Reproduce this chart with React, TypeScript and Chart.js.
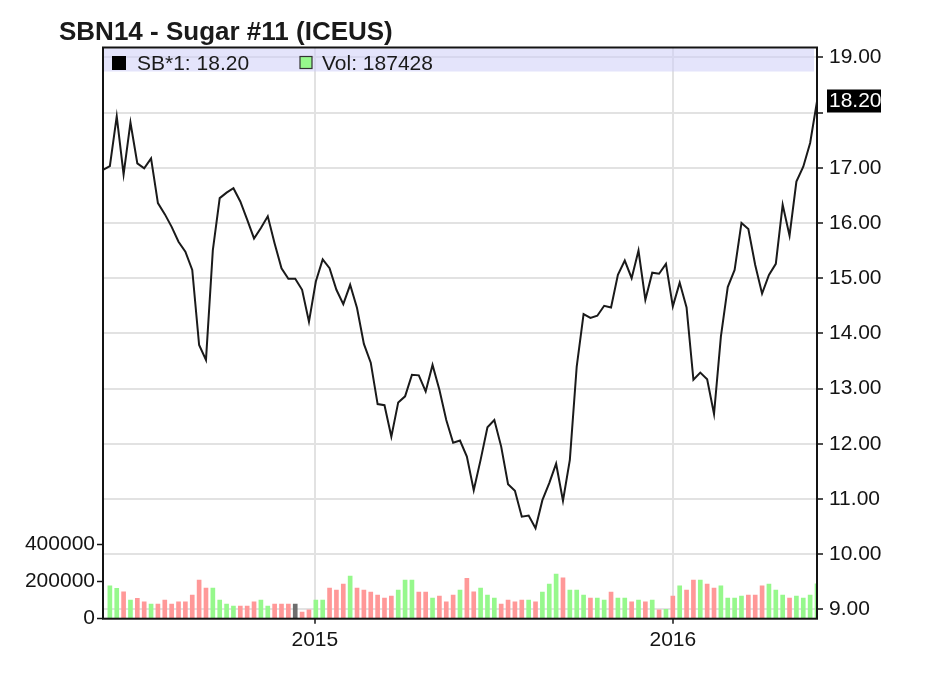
import React, { useEffect, useRef } from 'react';
import { Chart, registerables } from 'chart.js';

Chart.register(...registerables);

const TITLE = 'SBN14 - Sugar #11 (ICEUS)';
const PRICE_LABEL = 'SB*1';
const VOLUME_LABEL = 'Vol';

// Weekly closes (Fridays)
const dates = [
  '2014-05-30', '2014-06-06', '2014-06-13', '2014-06-20', '2014-06-27', '2014-07-04', '2014-07-11', '2014-07-18',
  '2014-07-25', '2014-08-01', '2014-08-08', '2014-08-15', '2014-08-22', '2014-08-29', '2014-09-05', '2014-09-12',
  '2014-09-19', '2014-09-26', '2014-10-03', '2014-10-10', '2014-10-17', '2014-10-24', '2014-10-31', '2014-11-07',
  '2014-11-14', '2014-11-21', '2014-11-28', '2014-12-05', '2014-12-12', '2014-12-19', '2014-12-26',
  '2015-01-02', '2015-01-09', '2015-01-16', '2015-01-23', '2015-01-30', '2015-02-06', '2015-02-13', '2015-02-20',
  '2015-02-27', '2015-03-06', '2015-03-13', '2015-03-20', '2015-03-27', '2015-04-03', '2015-04-10', '2015-04-17',
  '2015-04-24', '2015-05-01', '2015-05-08', '2015-05-15', '2015-05-22', '2015-05-29', '2015-06-05', '2015-06-12',
  '2015-06-19', '2015-06-26', '2015-07-03', '2015-07-10', '2015-07-17', '2015-07-24', '2015-07-31', '2015-08-07',
  '2015-08-14', '2015-08-21', '2015-08-28', '2015-09-04', '2015-09-11', '2015-09-18', '2015-09-25', '2015-10-02',
  '2015-10-09', '2015-10-16', '2015-10-23', '2015-10-30', '2015-11-06', '2015-11-13', '2015-11-20', '2015-11-27',
  '2015-12-04', '2015-12-11', '2015-12-18', '2015-12-25',
  '2016-01-01', '2016-01-08', '2016-01-15', '2016-01-22', '2016-01-29', '2016-02-05', '2016-02-12', '2016-02-19',
  '2016-02-26', '2016-03-04', '2016-03-11', '2016-03-18', '2016-03-25', '2016-04-01', '2016-04-08', '2016-04-15',
  '2016-04-22', '2016-04-29', '2016-05-06', '2016-05-13', '2016-05-20', '2016-05-27',
];

const prices = [
  16.96, 17.03, 17.93, 16.88, 17.82, 17.08, 16.99, 17.17, 16.36, 16.16,
  15.93, 15.66, 15.48, 15.15, 13.79, 13.52, 15.51, 16.45, 16.55, 16.63,
  16.39, 16.06, 15.72, 15.91, 16.12, 15.63, 15.18, 14.99, 14.99, 14.79,
  14.21, 14.94, 15.34, 15.18, 14.79, 14.53, 14.88, 14.46, 13.81, 13.47,
  12.72, 12.70, 12.13, 12.75, 12.86, 13.25, 13.24, 12.95, 13.43, 12.98,
  12.43, 12.02, 12.06, 11.77, 11.16, 11.71, 12.30, 12.43, 11.95, 11.27,
  11.15, 10.68, 10.70, 10.47, 10.98, 11.29, 11.64, 10.97, 11.71, 13.40,
  14.35, 14.28, 14.32, 14.50, 14.47, 15.06, 15.32, 15.00, 15.50, 14.61,
  15.10, 15.08, 15.26, 14.49, 14.92, 14.47, 13.16, 13.29, 13.17, 12.54,
  13.94, 14.84, 15.15, 16.00, 15.89, 15.24, 14.72, 15.06, 15.26, 16.33,
  15.77, 16.75, 17.02, 17.45, 18.20,
];

const volumes = [
  null,
  176000, 163000, 145000, 100000, 109000, 90000, 79000, 79000, 100000, 79000,
  90000, 90000, 127000, 208000, 165000, 165000, 100000, 79000, 68000, 68000,
  68000, 90000, 100000, 68000, 79000, 79000, 79000, 79000, 36000, 48000,
  100000, 100000, 165000, 154000, 186000, 229000, 165000, 154000, 143000, 127000,
  111000, 122000, 154000, 208000, 208000, 143000, 143000, 111000, 122000, 90000,
  127000, 154000, 217000, 145000, 165000, 127000, 111000, 79000, 100000, 90000,
  100000, 100000, 90000, 143000, 186000, 240000, 219000, 154000, 154000, 127000,
  111000, 111000, 100000, 143000, 111000, 111000, 90000, 100000, 90000, 100000,
  48000, 50000, 122000, 176000, 154000, 208000, 208000, 186000, 165000, 176000,
  111000, 111000, 122000, 127000, 127000, 176000, 186000, 154000, 127000, 111000,
  122000, 111000, 127000, 187428,
];

const yearTicks = ['2015-01-01', '2016-01-01'];
const priceTicks = [9, 10, 11, 12, 13, 14, 15, 16, 17, 18, 19];
const volumeTicks = [0, 200000, 400000];

const FONT = "'Liberation Sans', Arial, Helvetica, sans-serif";
const GREEN = 'rgb(150,248,140)';
const RED = 'rgb(255,152,152)';
const GRAY = 'rgb(110,110,110)';
const GRID = 'rgb(226,226,226)';
const INK = '#141414';

const ts = (d: string) => Date.parse(d + 'T00:00:00Z');

export default function App() {
  const ref = useRef<HTMLCanvasElement | null>(null);

  useEffect(() => {
    document.body.style.margin = '0';
    const canvas = ref.current;
    if (!canvas) return;

    const lastPrice = prices[prices.length - 1];
    const lastVolume = volumes[volumes.length - 1] as number;
    const barColors = prices.map((p, i) =>
      i === 0 ? GREEN : p > prices[i - 1] ? GREEN : p < prices[i - 1] ? RED : GRAY
    );

    const decor = {
      id: 'decor',
      beforeDatasetsDraw(chart: any) {
        const { ctx, chartArea } = chart;
        ctx.save();
        ctx.fillStyle = 'rgba(205,205,248,0.55)';
        ctx.fillRect(chartArea.left + 1, chartArea.top + 1, chartArea.right - chartArea.left - 4, 23);
        ctx.restore();
      },
      afterDraw(chart: any) {
        const { ctx, chartArea } = chart;
        ctx.save();
        // title
        ctx.fillStyle = '#1a1a1a';
        ctx.font = `bold 26px ${FONT}`;
        ctx.textBaseline = 'alphabetic';
        ctx.textAlign = 'left';
        ctx.fillText(TITLE, 59, 39.5);

        // legend
        ctx.font = `21px ${FONT}`;
        ctx.fillStyle = '#000';
        ctx.fillRect(112, 56, 14, 14);
        ctx.fillStyle = '#1a1a1a';
        ctx.fillText(`${PRICE_LABEL}: ${lastPrice.toFixed(2)}`, 137, 69.5);
        ctx.fillStyle = GREEN;
        ctx.fillRect(300, 56.5, 12, 12);
        ctx.strokeStyle = '#333';
        ctx.lineWidth = 1.2;
        ctx.strokeRect(300, 56.5, 12, 12);
        ctx.fillStyle = '#1a1a1a';
        ctx.fillText(`${VOLUME_LABEL}: ${lastVolume}`, 322, 69.5);

        // frame
        ctx.strokeStyle = INK;
        ctx.lineWidth = 2;
        ctx.strokeRect(chartArea.left, chartArea.top, chartArea.right - chartArea.left, chartArea.bottom - chartArea.top);

        // last price box
        const y = chart.scales.y.getPixelForValue(lastPrice);
        ctx.fillStyle = '#000';
        ctx.fillRect(827, y - 12, 54, 23);
        ctx.fillStyle = '#fff';
        ctx.textBaseline = 'middle';
        ctx.fillText(lastPrice.toFixed(2), 829, y);
        ctx.restore();
      },
    };

    const tickFont = { family: FONT, size: 21 };

    const chart = new Chart(canvas, {
      data: {
        datasets: [
          {
            type: 'line',
            data: dates.map((d, i) => ({ x: ts(d), y: prices[i] })),
            yAxisID: 'y',
            borderColor: '#1a1a1a',
            borderWidth: 2,
            pointRadius: 0,
            tension: 0,
            order: 1,
          } as any,
          {
            type: 'bar',
            data: dates.map((d, i) => ({ x: ts(d), y: volumes[i] })),
            yAxisID: 'y1',
            backgroundColor: barColors,
            barThickness: 4,
            order: 2,
          } as any,
        ],
      },
      options: {
        responsive: false,
        devicePixelRatio: 1,
        animation: false,
        layout: { padding: { top: 47.5, left: 0, right: 0, bottom: 0 } },
        plugins: { legend: { display: false }, tooltip: { enabled: false }, title: { display: false } },
        scales: {
          x: {
            type: 'linear',
            min: ts(dates[0]),
            max: ts(dates[dates.length - 1]),
            offset: false,
            afterBuildTicks: (s: any) => {
              s.ticks = yearTicks.map((d) => ({ value: ts(d) }));
            },
            afterFit: (s: any) => {
              s.height = 57.3;
            },
            ticks: {
              autoSkip: false,
              maxRotation: 0,
              font: tickFont,
              color: INK,
              padding: 4,
              callback: (v: any) => String(new Date(v).getUTCFullYear()),
            },
            grid: { color: GRID, lineWidth: 2, tickColor: INK, tickLength: 5, tickWidth: 1.5, offset: false },
            border: { display: false },
          },
          y: {
            type: 'linear',
            position: 'right',
            min: 8.833,
            max: 19.178,
            afterBuildTicks: (s: any) => {
              s.ticks = priceTicks.map((v) => ({ value: v }));
            },
            afterFit: (s: any) => {
              s.width = 111;
            },
            ticks: {
              font: tickFont,
              color: INK,
              padding: 6,
              callback: (v: any) => (Math.abs(v - lastPrice) < 0.45 ? '' : Number(v).toFixed(2)),
            },
            grid: { color: GRID, lineWidth: 2, tickColor: INK, tickLength: 6, tickWidth: 1.5 },
            border: { display: false },
          },
          y1: {
            type: 'linear',
            position: 'left',
            min: 0,
            max: 3070000,
            afterBuildTicks: (s: any) => {
              s.ticks = volumeTicks.map((v) => ({ value: v }));
            },
            afterFit: (s: any) => {
              s.width = 103;
            },
            ticks: {
              font: tickFont,
              color: INK,
              padding: 2,
              callback: (v: any) => String(v),
            },
            grid: { drawOnChartArea: false, tickColor: INK, tickLength: 6, tickWidth: 1.5 },
            border: { display: false },
          },
        },
      } as any,
      plugins: [decor],
    });

    return () => chart.destroy();
  }, []);

  return (
    <div style={{ width: 928, height: 676, background: '#fff' }}>
      <canvas ref={ref} width={928} height={676} style={{ display: 'block', width: 928, height: 676 }} />
    </div>
  );
}
